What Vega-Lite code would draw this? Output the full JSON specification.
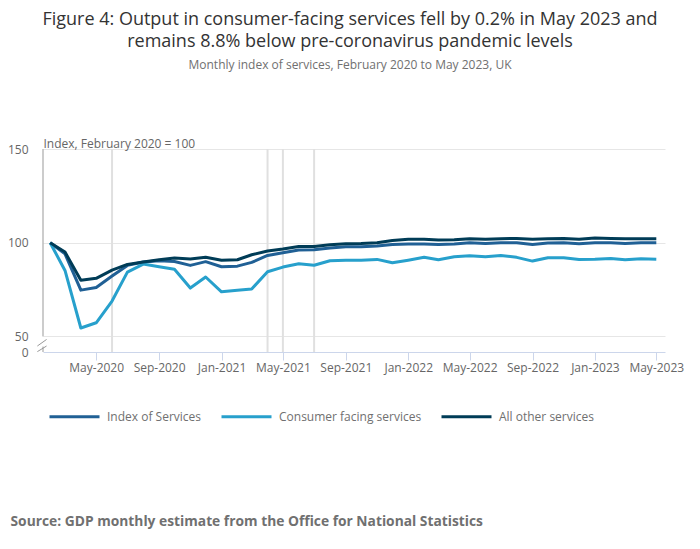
{
  "$schema": "https://vega.github.io/schema/vega-lite/v6.json",
  "width": 622,
  "height": 203,
  "autosize": {"type": "none"},
  "padding": {"left": 43, "top": 149, "right": 35, "bottom": 197},
  "background": "white",
  "title": {
    "text": [
      "Figure 4: Output in consumer-facing services fell by 0.2% in May 2023 and",
      "remains 8.8% below pre-coronavirus pandemic levels"
    ],
    "subtitle": "Monthly index of services, February 2020 to May 2023, UK",
    "anchor": "middle",
    "frame": "group",
    "fontSize": 18,
    "fontWeight": "normal",
    "color": "#333333",
    "lineHeight": 22,
    "subtitleFontSize": 12,
    "subtitleColor": "#707070",
    "subtitlePadding": 9,
    "offset": 66,
    "dx": -4
  },
  "datasets": {
    "services": [
      {"month": "2020-02-01", "Index of Services": 100, "Consumer facing services": 100, "All other services": 100},
      {"month": "2020-03-01", "Index of Services": 94.1, "Consumer facing services": 85.2, "All other services": 95.0},
      {"month": "2020-04-01", "Index of Services": 74.7, "Consumer facing services": 54.5, "All other services": 80.0},
      {"month": "2020-05-01", "Index of Services": 76.1, "Consumer facing services": 57.3, "All other services": 81.0},
      {"month": "2020-06-01", "Index of Services": 82.2, "Consumer facing services": 68.9, "All other services": 85.4},
      {"month": "2020-07-01", "Index of Services": 87.9, "Consumer facing services": 84.3, "All other services": 88.4},
      {"month": "2020-08-01", "Index of Services": 89.7, "Consumer facing services": 88.6, "All other services": 89.7},
      {"month": "2020-09-01", "Index of Services": 90.4, "Consumer facing services": 87.2, "All other services": 90.9},
      {"month": "2020-10-01", "Index of Services": 90.0, "Consumer facing services": 85.8, "All other services": 91.8},
      {"month": "2020-11-01", "Index of Services": 87.9, "Consumer facing services": 75.8, "All other services": 91.3},
      {"month": "2020-12-01", "Index of Services": 89.9, "Consumer facing services": 81.7, "All other services": 92.3},
      {"month": "2021-01-01", "Index of Services": 87.2, "Consumer facing services": 73.8, "All other services": 90.7},
      {"month": "2021-02-01", "Index of Services": 87.5, "Consumer facing services": 74.7, "All other services": 90.9},
      {"month": "2021-03-01", "Index of Services": 89.5, "Consumer facing services": 75.3, "All other services": 93.6},
      {"month": "2021-04-01", "Index of Services": 93.2, "Consumer facing services": 84.5, "All other services": 95.6},
      {"month": "2021-05-01", "Index of Services": 94.7, "Consumer facing services": 87.0, "All other services": 96.6},
      {"month": "2021-06-01", "Index of Services": 96.1, "Consumer facing services": 88.8, "All other services": 98.0},
      {"month": "2021-07-01", "Index of Services": 96.3, "Consumer facing services": 88.0, "All other services": 98.0},
      {"month": "2021-08-01", "Index of Services": 97.2, "Consumer facing services": 90.4, "All other services": 98.9},
      {"month": "2021-09-01", "Index of Services": 97.9, "Consumer facing services": 90.7, "All other services": 99.5},
      {"month": "2021-10-01", "Index of Services": 97.9, "Consumer facing services": 90.6, "All other services": 99.6},
      {"month": "2021-11-01", "Index of Services": 98.2, "Consumer facing services": 91.1, "All other services": 100.0},
      {"month": "2021-12-01", "Index of Services": 99.1, "Consumer facing services": 89.3, "All other services": 101.2},
      {"month": "2022-01-01", "Index of Services": 99.3, "Consumer facing services": 90.7, "All other services": 101.8},
      {"month": "2022-02-01", "Index of Services": 99.3, "Consumer facing services": 92.2, "All other services": 101.8},
      {"month": "2022-03-01", "Index of Services": 99.1, "Consumer facing services": 90.9, "All other services": 101.4},
      {"month": "2022-04-01", "Index of Services": 99.3, "Consumer facing services": 92.5, "All other services": 101.6},
      {"month": "2022-05-01", "Index of Services": 100.0, "Consumer facing services": 93.1, "All other services": 102.1},
      {"month": "2022-06-01", "Index of Services": 99.6, "Consumer facing services": 92.5, "All other services": 101.8},
      {"month": "2022-07-01", "Index of Services": 100.0, "Consumer facing services": 93.2, "All other services": 102.1},
      {"month": "2022-08-01", "Index of Services": 100.0, "Consumer facing services": 92.2, "All other services": 102.3},
      {"month": "2022-09-01", "Index of Services": 99.1, "Consumer facing services": 90.2, "All other services": 101.8},
      {"month": "2022-10-01", "Index of Services": 99.8, "Consumer facing services": 92.0, "All other services": 102.1},
      {"month": "2022-11-01", "Index of Services": 100.0, "Consumer facing services": 92.0, "All other services": 102.3},
      {"month": "2022-12-01", "Index of Services": 99.5, "Consumer facing services": 91.0, "All other services": 101.8},
      {"month": "2023-01-01", "Index of Services": 100.0, "Consumer facing services": 91.2, "All other services": 102.5},
      {"month": "2023-02-01", "Index of Services": 100.0, "Consumer facing services": 91.6, "All other services": 102.3},
      {"month": "2023-03-01", "Index of Services": 99.6, "Consumer facing services": 90.9, "All other services": 102.1},
      {"month": "2023-04-01", "Index of Services": 100.0, "Consumer facing services": 91.4, "All other services": 102.1},
      {"month": "2023-05-01", "Index of Services": 100.0, "Consumer facing services": 91.2, "All other services": 102.1}
    ],
    "markers": [
      {"month": "2020-06-01"},
      {"month": "2021-04-01"},
      {"month": "2021-05-01"},
      {"month": "2021-07-01"}
    ],
    "axisbreak": [
      {"start": "2020-01-18", "end": "2020-01-18", "low": 50, "high": 150},
      {"start": "2020-01-18", "end": "2020-01-18", "low": 41.7, "high": 44.6},
      {"start": "2020-01-07", "end": "2020-01-25", "low": 44.9, "high": 48.4},
      {"start": "2020-01-07", "end": "2020-01-25", "low": 41.9, "high": 44.9}
    ]
  },
  "layer": [
    {
      "data": {"name": "markers"},
      "mark": {"type": "rule", "color": "#e0e0e0", "strokeWidth": 2},
      "encoding": {
        "x": {"field": "month", "type": "temporal", "timeUnit": "utcyearmonth"}
      }
    },
    {
      "data": {"name": "axisbreak"},
      "mark": {"type": "rule", "color": "#999999", "strokeWidth": 1},
      "encoding": {
        "x": {"field": "start", "type": "temporal", "timeUnit": "utcyearmonthdate"},
        "x2": {"field": "end"},
        "y": {"field": "low", "type": "quantitative"},
        "y2": {"field": "high"}
      }
    },
    {
      "data": {"name": "services"},
      "transform": [
        {
          "fold": ["Index of Services", "Consumer facing services", "All other services"],
          "as": ["series", "value"]
        }
      ],
      "mark": {"type": "line", "strokeWidth": 3, "strokeJoin": "round"},
      "encoding": {
        "x": {
          "field": "month",
          "type": "temporal",
          "timeUnit": "utcyearmonth",
          "scale": {
            "domain": [
              {"year": 2020, "month": 1, "date": 18, "utc": true},
              {"year": 2023, "month": 5, "date": 18, "utc": true}
            ]
          },
          "axis": {
            "values": [
              {"year": 2020, "month": 5, "date": 1, "utc": true},
              {"year": 2020, "month": 9, "date": 1, "utc": true},
              {"year": 2021, "month": 1, "date": 1, "utc": true},
              {"year": 2021, "month": 5, "date": 1, "utc": true},
              {"year": 2021, "month": 9, "date": 1, "utc": true},
              {"year": 2022, "month": 1, "date": 1, "utc": true},
              {"year": 2022, "month": 5, "date": 1, "utc": true},
              {"year": 2022, "month": 9, "date": 1, "utc": true},
              {"year": 2023, "month": 1, "date": 1, "utc": true},
              {"year": 2023, "month": 5, "date": 1, "utc": true}
            ],
            "format": "%b-%Y",
            "grid": false,
            "labelFontSize": 12,
            "labelColor": "#666666",
            "labelPadding": 2,
            "domainColor": "#ccd6eb",
            "tickColor": "#ccd6eb",
            "tickSize": 8,
            "title": "Source: GDP monthly estimate from the Office for National Statistics",
            "titleX": -33,
            "titleY": 169,
            "titleAlign": "left",
            "titleAnchor": "start",
            "titleBaseline": "middle",
            "titleFontWeight": "bold",
            "titleFontSize": 13.8,
            "titleColor": "#707070"
          }
        },
        "y": {
          "field": "value",
          "type": "quantitative",
          "scale": {"domain": [41.7, 150], "nice": false, "zero": false},
          "axis": {
            "values": [41.7, 50, 100, 150],
            "labelExpr": "datum.value < 45 ? '0' : datum.label",
            "ticks": false,
            "tickSize": 0,
            "domain": false,
            "labelPadding": 15,
            "labelFontSize": 12,
            "labelColor": "#666666",
            "gridColor": "#e6e6e6",
            "gridOpacity": {"condition": {"test": "datum.value < 45", "value": 0}, "value": 1},
            "title": "Index, February 2020 = 100",
            "titleAngle": 0,
            "titleAlign": "left",
            "titleBaseline": "middle",
            "titleX": 0,
            "titleY": -6,
            "titleFontWeight": "normal",
            "titleFontSize": 12,
            "titleColor": "#666666"
          }
        },
        "color": {
          "field": "series",
          "type": "nominal",
          "scale": {
            "domain": ["Index of Services", "Consumer facing services", "All other services"],
            "range": ["#206095", "#27a0cc", "#003c57"]
          },
          "legend": {
            "orient": "none",
            "legendX": 5,
            "legendY": 241,
            "direction": "horizontal",
            "title": null,
            "symbolType": "stroke",
            "symbolSize": 2500,
            "symbolStrokeWidth": 3,
            "labelFontSize": 12,
            "labelColor": "#707070",
            "labelOffset": 6,
            "columnPadding": 13
          }
        }
      }
    }
  ],
  "config": {
    "font": "Open Sans",
    "view": {"stroke": null}
  }
}
